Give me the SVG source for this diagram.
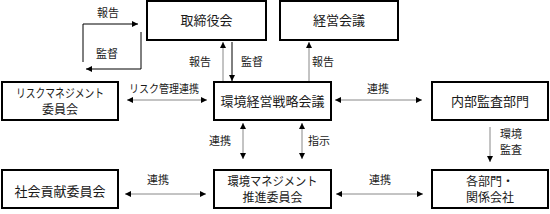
<svg xmlns="http://www.w3.org/2000/svg" width="550" height="214" viewBox="0 0 550 214">
<defs>
<style>
.box{fill:#fff;stroke:#000;stroke-width:2}
.t{font-family:"Noto Sans CJK JP","Noto Sans",sans-serif;font-size:13px;fill:#1a1a1a;text-anchor:middle}
.t2{font-family:"Noto Sans CJK JP","Noto Sans",sans-serif;font-size:12px;fill:#1a1a1a;text-anchor:middle}
.l{font-family:"Noto Sans CJK JP","Noto Sans",sans-serif;font-size:11px;fill:#1a1a1a;text-anchor:middle}
.c{fill:none;stroke:#888;stroke-width:1}
.k{fill:none;stroke:#000;stroke-width:1}
</style>
<marker id="ah" viewBox="0 0 6 6" refX="6" refY="3" markerWidth="6" markerHeight="6" markerUnits="userSpaceOnUse" orient="auto-start-reverse">
<path d="M0,0 L6,3 L0,6 Z" fill="#000"/>
</marker>
</defs>
<rect width="550" height="214" fill="#fff"/>
<g id="connectors">
<polyline class="k" points="83,62 83,24 138,24" marker-end="url(#ah)"/>
<polyline class="k" points="141,32 141,69 86,69" marker-end="url(#ah)"/>
<line class="c" x1="223" y1="81" x2="223" y2="42" marker-end="url(#ah)"/>
<line class="k" x1="232" y1="42" x2="232" y2="81" marker-end="url(#ah)"/>
<line class="c" x1="309" y1="81" x2="309" y2="42" marker-end="url(#ah)"/>
<line class="c" x1="127" y1="100" x2="207" y2="100" marker-start="url(#ah)" marker-end="url(#ah)"/>
<line class="c" x1="335" y1="100" x2="422" y2="100" marker-start="url(#ah)" marker-end="url(#ah)"/>
<line class="c" x1="243" y1="123" x2="243" y2="159" marker-start="url(#ah)" marker-end="url(#ah)"/>
<line class="c" x1="302" y1="123" x2="302" y2="159" marker-start="url(#ah)" marker-end="url(#ah)"/>
<line class="c" x1="490" y1="127" x2="490" y2="162" marker-end="url(#ah)"/>
<line class="c" x1="125" y1="194" x2="206" y2="194" marker-start="url(#ah)" marker-end="url(#ah)"/>
<line class="c" x1="336" y1="194" x2="423" y2="194" marker-start="url(#ah)" marker-end="url(#ah)"/>
<text class="l" x="108" y="17">報告</text>
<text class="l" x="107" y="58">監督</text>
<text class="l" x="200" y="66">報告</text>
<text class="l" x="252" y="66">監督</text>
<text class="l" x="323" y="66">報告</text>
<text class="l" x="164" y="93" textLength="70" lengthAdjust="spacingAndGlyphs">リスク管理連携</text>
<text class="l" x="378" y="93">連携</text>
<text class="l" x="220" y="145">連携</text>
<text class="l" x="319" y="145">指示</text>
<text class="l" x="511" y="138">環境</text>
<text class="l" x="511" y="154">監査</text>
<text class="l" x="158" y="184">連携</text>
<text class="l" x="380" y="184">連携</text>
</g>
<g id="torishimariyakukai">
<rect class="box" x="147" y="1" width="119" height="39"/>
<text class="t" x="206.5" y="25">取締役会</text>
</g>
<g id="keiei-kaigi">
<rect class="box" x="280" y="1" width="118" height="39"/>
<text class="t" x="339" y="25">経営会議</text>
</g>
<g id="risk-iinkai">
<rect class="box" x="2" y="82" width="116" height="38"/>
<text class="t2" x="60" y="98" textLength="88" lengthAdjust="spacingAndGlyphs">リスクマネジメント</text>
<text class="t2" x="60" y="114">委員会</text>
</g>
<g id="senryaku-kaigi">
<rect class="box" x="214" y="82" width="117" height="38"/>
<text class="t" x="272.5" y="106">環境経営戦略会議</text>
</g>
<g id="naibu-kansa">
<rect class="box" x="432" y="82" width="116" height="38"/>
<text class="t" x="490" y="106">内部監査部門</text>
</g>
<g id="shakai-koken">
<rect class="box" x="2" y="170" width="116" height="38"/>
<text class="t" x="60" y="196">社会貢献委員会</text>
</g>
<g id="suishin-iinkai">
<rect class="box" x="214" y="170" width="117" height="38"/>
<text class="t2" x="272.5" y="186" textLength="90" lengthAdjust="spacingAndGlyphs">環境マネジメント</text>
<text class="t2" x="272.5" y="202">推進委員会</text>
</g>
<g id="kakubumon">
<rect class="box" x="432" y="170" width="116" height="38"/>
<text class="t2" x="490" y="186">各部門・</text>
<text class="t2" x="490" y="202">関係会社</text>
</g>
</svg>
